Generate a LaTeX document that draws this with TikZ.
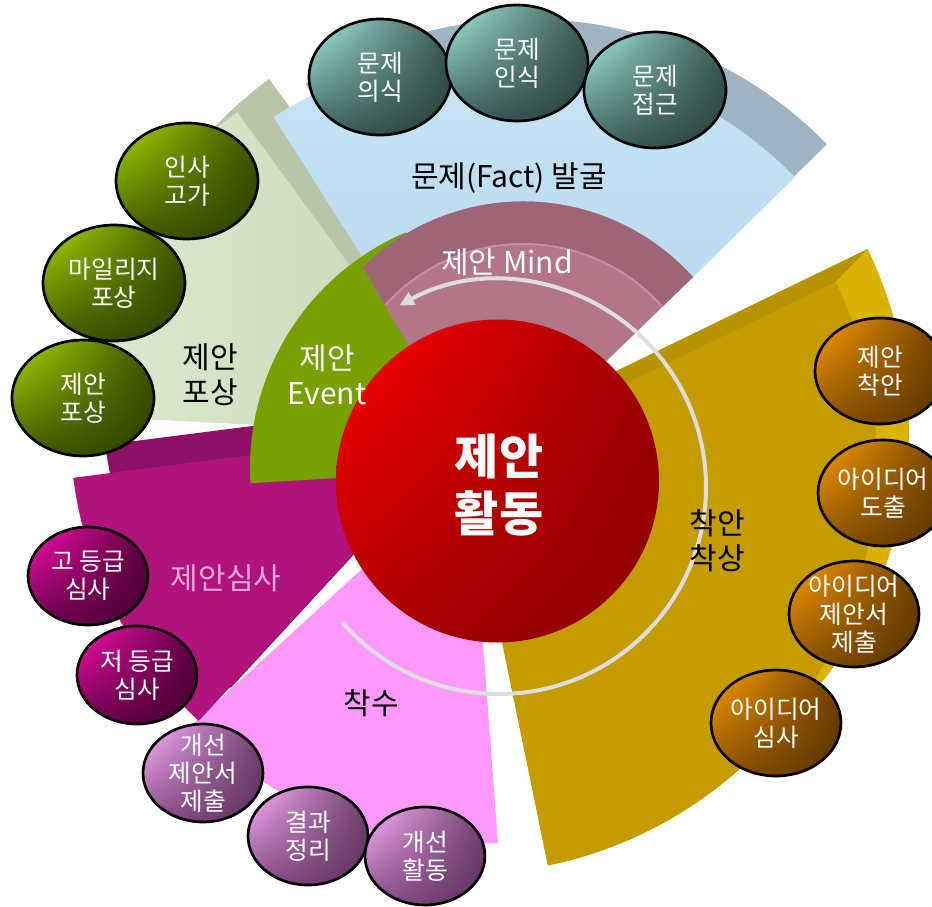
\documentclass[tikz,border=0pt]{standalone}
\usepackage{fontspec}
\setmainfont{Noto Sans CJK KR}
\usetikzlibrary{arrows.meta,shapes.geometric,shadings}
\newdimen\pxu \pxu=0.75pt
\newcommand\secpath[4]{(#1) -- ++(#3:#2) arc[start angle=#3, end angle=#4, radius=#2] -- cycle}
\definecolor{sageB}{HTML}{B9C5A8}
\definecolor{sageL}{HTML}{DCE9CE}
\definecolor{sageR}{HTML}{CAD6B8}
\definecolor{blueB}{HTML}{9FB3C3}
\definecolor{blueT}{HTML}{C8E6F8}
\definecolor{blueBot}{HTML}{B3D3E7}
\definecolor{pinkF}{HTML}{FF99FF}
\definecolor{magB}{HTML}{8F1166}
\definecolor{magF}{HTML}{B0147C}
\definecolor{grnF}{HTML}{77A000}
\definecolor{ringF}{HTML}{B37588}
\definecolor{ringB}{HTML}{9E6577}
\definecolor{ringL}{HTML}{C98DA2}
\definecolor{goldS}{HTML}{DAB200}
\definecolor{goldT}{HTML}{B89500}
\definecolor{goldF}{HTML}{C49C00}
\definecolor{arcG}{HTML}{DDDDDD}
\definecolor{simsa}{HTML}{E6A8D8}
\definecolor{tUL}{HTML}{A8F0E4}\definecolor{tUR}{HTML}{3A5852}
\definecolor{tLL}{HTML}{3C605A}\definecolor{tLR}{HTML}{2C403C}
\definecolor{gUL}{HTML}{A8DC00}\definecolor{gUR}{HTML}{3E5200}
\definecolor{gLL}{HTML}{405800}\definecolor{gLR}{HTML}{2E4000}
\definecolor{mUL}{HTML}{FF10B0}\definecolor{mUR}{HTML}{5A0040}
\definecolor{mLL}{HTML}{6A0050}\definecolor{mLR}{HTML}{480030}
\definecolor{lUL}{HTML}{FFB4FF}\definecolor{lUR}{HTML}{70406E}
\definecolor{lLL}{HTML}{8A4E88}\definecolor{lLR}{HTML}{5E325C}
\definecolor{oUL}{HTML}{FFA000}\definecolor{oUR}{HTML}{704000}
\definecolor{oLL}{HTML}{8A5200}\definecolor{oLR}{HTML}{5A3400}
\definecolor{rUL}{HTML}{FF0000}\definecolor{rUR}{HTML}{A00000}
\definecolor{rLL}{HTML}{B00000}\definecolor{rLR}{HTML}{880000}
\tikzset{
  lbl/.style={font=\fontsize{22.5pt}{26pt}\selectfont, align=center, inner sep=0pt},
  btxt/.style={font=\fontsize{18.5pt}{21pt}\selectfont, text=white, align=center, inner sep=0pt},
  bub/.style={ellipse, draw=black, line width=2pt, inner sep=0pt},
  bubBig/.style={bub, minimum width=142\pxu, minimum height=116\pxu},
  bubSmall/.style={bub, minimum width=120\pxu, minimum height=98\pxu},
  bubMid/.style={bub, minimum width=130\pxu, minimum height=106\pxu},
  teal/.style={bubBig, upper left=tUL, upper right=tUR, lower left=tLL, lower right=tLR},
  leaf/.style={bubBig, upper left=gUL, upper right=gUR, lower left=gLL, lower right=gLR},
  plum/.style={bubSmall, upper left=mUL, upper right=mUR, lower left=mLL, lower right=mLR},
  lilac/.style={bubSmall, upper left=lUL, upper right=lUR, lower left=lLL, lower right=lLR},
  amber/.style={bubMid, upper left=oUL, upper right=oUR, lower left=oLL, lower right=oLR},
}
\begin{document}
\begin{tikzpicture}[x=0.75pt,y=0.75pt]
\useasboundingbox (0,0) rectangle (932,-907);
% sage sector
\fill[sageB, shift={(32,33)}] \secpath{475,-436}{402}{126.3}{177.1};
\shade[left color=sageL, right color=sageR] \secpath{475,-436}{402}{126.3}{177.1};
% blue sector
\fill[blueB, shift={(32,33)}] \secpath{497,-469}{417}{44.4}{122.4};
\shade[top color=blueT, bottom color=blueBot] \secpath{497,-469}{417}{44.4}{122.4};
% pink sector
\fill[pinkF] \secpath{470,-470}{374}{222.5}{274.3};
% magenta sector
\fill[magB, shift={(32,33)}] \secpath{470,-427}{400}{187.3}{227.3};
\fill[magF] \secpath{470,-427}{400}{187.3}{227.3};
% green sector
\fill[grnF] \secpath{506,-468}{256}{113}{183.4};
% pink ring
\fill[ringF] (485,-478) -- (363,-267) arc[start angle=134.5, end angle=42, radius=228.5] -- cycle;
\begin{scope}
  \clip (485,-478) -- (363,-267) arc[start angle=134.5, end angle=42, radius=228.5] -- cycle;
  \fill[ringB, even odd rule] (523,-430) circle[radius=232] (523,-430) circle[radius=186];
  \draw[ringL, line width=1.5pt] (523,-430) circle[radius=186];
\end{scope}
% gold sector
\fill[goldS, shift={(32,33)}] \secpath{465,-462}{412}{-78.4}{25.9};
\fill[goldT] (465,-462) -- ++(25.9:412) -- ++(32,33) -- (497,-429) -- cycle;
\fill[goldF] \secpath{465,-462}{412}{-78.4}{25.9};
% core
\node[circle, minimum size=323\pxu, inner sep=0pt, upper left=rUL, upper right=rUR, lower left=rLL, lower right=rLR] (core) at (497.5,-481) {};
\node[font=\fontsize{36pt}{43pt}\selectfont\bfseries, text=white, align=center, inner sep=0pt] (coretxt) at (499,-485) {제안\\활동};
% cycle arrow
\draw[arcG, line width=3pt, -{Triangle[length=11pt,width=10pt]}] (499,-487) ++(220.9:207) arc[start angle=220.9, end angle=478.8, radius=207];
% sector labels
\node[lbl] (lfact) at (509,-178) {문제(Fact) 발굴};
\node[lbl, text=white] (lmind) at (507,-262) {제안 Mind};
\node[lbl] (lreward) at (210,-375) {제안\\포상};
\node[lbl, text=white] (levent) at (327,-375) {제안\\Event};
\node[lbl] (lidea) at (717,-541) {착안\\착상};
\node[lbl] (lstart) at (371,-703) {착수};
\node[lbl, text=simsa] (lreview) at (226,-578) {제안심사};
% teal bubbles
\node[teal] (t1) at (380,-77) {};
\node[btxt] at (t1) {문제\\의식};
\node[teal] (t2) at (517,-63) {};
\node[btxt] at (t2) {문제\\인식};
\node[teal] (t3) at (655,-90) {};
\node[btxt] at (t3) {문제\\접근};
% green bubbles
\node[leaf] (g1) at (187,-181) {};
\node[btxt] at (g1) {인사\\고가};
\node[leaf] (g2) at (114,-283) {};
\node[btxt] at (g2) {마일리지\\포상};
\node[leaf] (g3) at (83,-398) {};
\node[btxt] at (g3) {제안\\포상};
% plum bubbles
\node[plum] (m1) at (88,-576) {};
\node[btxt] at (m1) {고 등급\\심사};
\node[plum] (m2) at (137,-675) {};
\node[btxt] at (m2) {저 등급\\심사};
% lilac bubbles
\node[lilac] (l1) at (203,-773) {};
\node[btxt] at (l1) {개선\\제안서\\제출};
\node[lilac] (l2) at (308,-836) {};
\node[btxt] at (l2) {결과\\정리};
\node[lilac] (l3) at (425,-856) {};
\node[btxt] at (l3) {개선\\활동};
% amber bubbles
\node[amber] (o1) at (880,-371) {};
\node[btxt] at (o1) {제안\\착안};
\node[amber] (o2) at (883,-493) {};
\node[btxt] at (o2) {아이디어\\도출};
\node[amber] (o3) at (854,-614) {};
\node[btxt] at (o3) {아이디어\\제안서\\제출};
\node[amber] (o4) at (776,-723) {};
\node[btxt] at (o4) {아이디어\\심사};
\end{tikzpicture}
\end{document}
